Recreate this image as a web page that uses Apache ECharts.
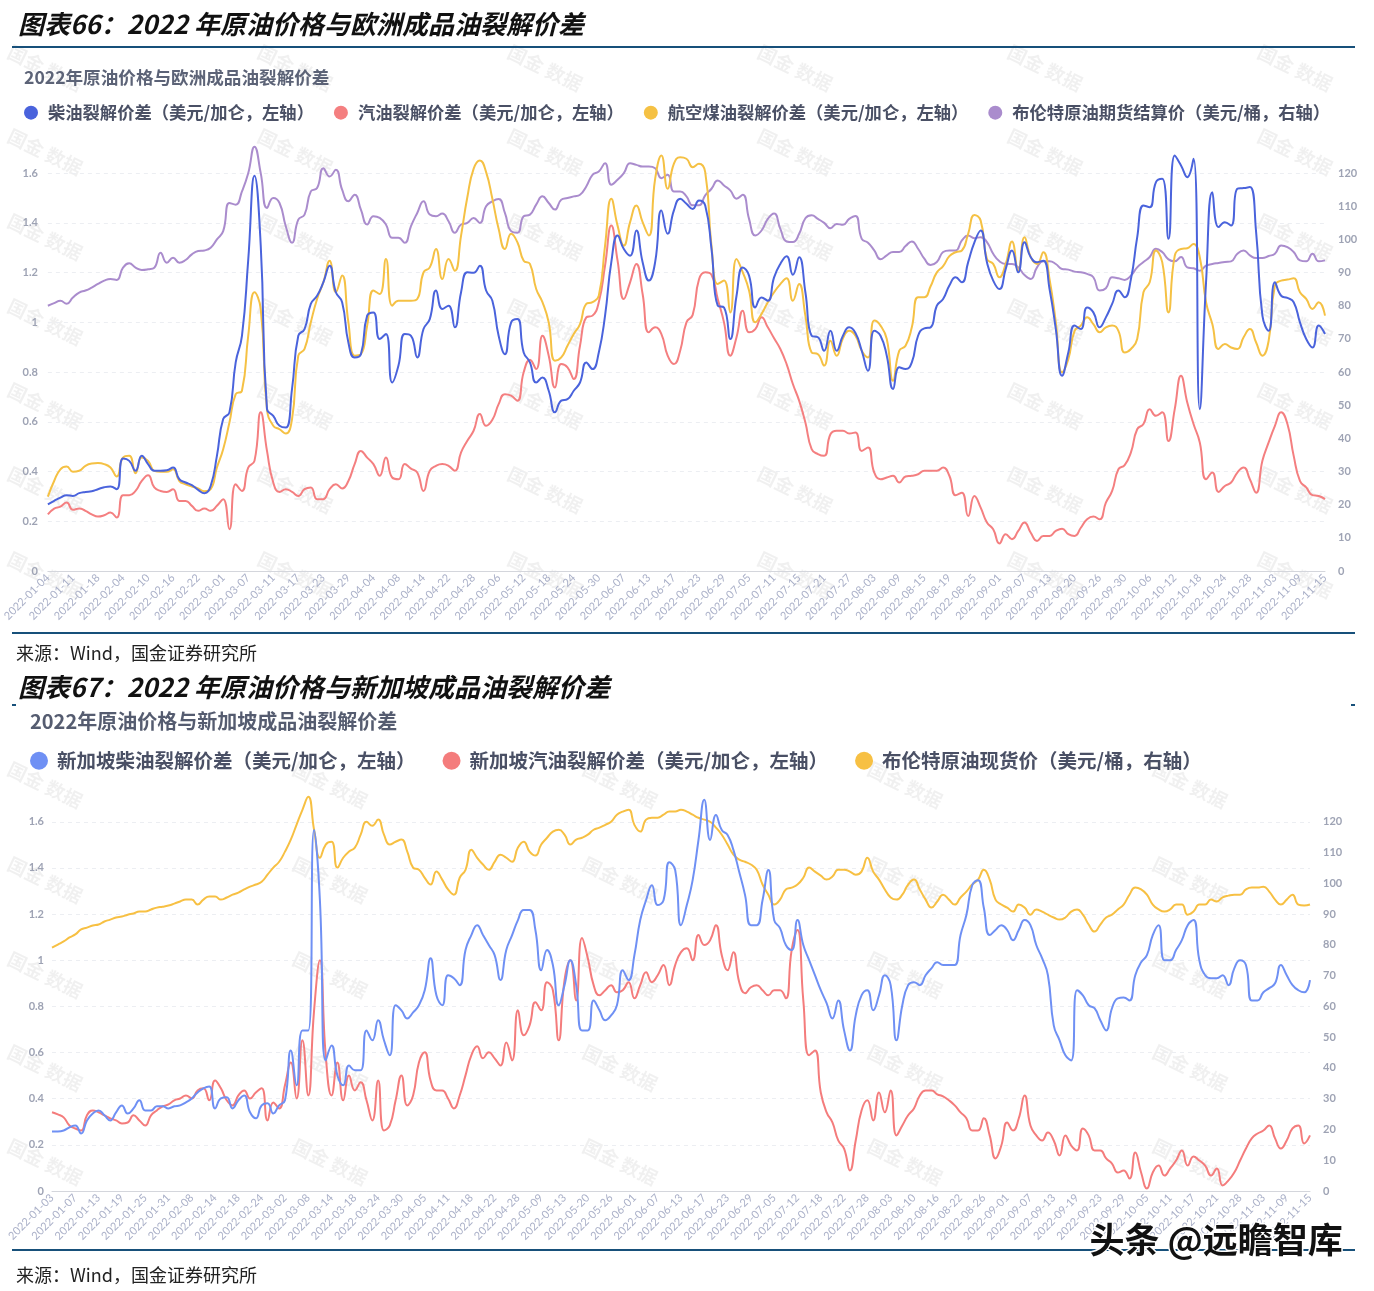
<!DOCTYPE html>
<html><head><meta charset="utf-8">
<script src="https://cdn.jsdelivr.net/npm/echarts/dist/echarts.min.js"></script>
<style>html,body{margin:0;padding:0;background:#fff}#c{width:1374px;height:1291px}</style>
</head><body><div id="c"></div>
<script>
// ---------- Chart 66: Europe ----------
const dates1 = ['01-04','01-05','01-06','01-07','01-11','01-12','01-13','01-14','01-18','01-19','01-20','01-21',
'02-04','02-07','02-08','02-09','02-10','02-11','02-14','02-15','02-16','02-17','02-18','02-21',
'02-22','02-23','02-24','02-25','03-01','03-02','03-03','03-04','03-07','03-08','03-09','03-10',
'03-11','03-14','03-15','03-16','03-17','03-18','03-21','03-22','03-23','03-24','03-25','03-28',
'03-29','03-30','03-31','04-01','04-04','04-05','04-06','04-07','04-08','04-11','04-12','04-13',
'04-14','04-19','04-20','04-21','04-22','04-25','04-26','04-27','04-28','04-29','05-04','05-05',
'05-06','05-09','05-10','05-11','05-12','05-13','05-16','05-17','05-18','05-19','05-20','05-23',
'05-24','05-25','05-26','05-27','05-30','05-31','06-01','06-06','06-07','06-08','06-09','06-10',
'06-13','06-14','06-15','06-16','06-17','06-20','06-21','06-22','06-23','06-24','06-27','06-28',
'06-29','06-30','07-01','07-04','07-05','07-06','07-07','07-08','07-11','07-12','07-13','07-14',
'07-15','07-18','07-19','07-20','07-21','07-22','07-25','07-26','07-27','07-28','07-29','08-01',
'08-03','08-04','08-05','08-08','08-09','08-10','08-11','08-12','08-15','08-16','08-17','08-18',
'08-19','08-22','08-23','08-24','08-25','08-26','08-29','08-31','09-01','09-02','09-05','09-06',
'09-07','09-08','09-09','09-12','09-13','09-14','09-15','09-16','09-20','09-21','09-22','09-23',
'09-26','09-27','09-28','09-29','09-30','10-03','10-04','10-05','10-06','10-07','10-10','10-11',
'10-12','10-13','10-14','10-17','10-18','10-19','10-20','10-21','10-24','10-25','10-26','10-27',
'10-28','10-31','11-01','11-02','11-03','11-04','11-07','11-08','11-09','11-10','11-11','11-14',
'11-15'].map(d => '2022-' + d);

const diesel1 = [
0.268,0.282,0.295,0.305,0.302,0.313,0.318,0.321,0.329,0.337,
0.34,0.329,0.452,0.443,0.403,0.463,0.43,0.403,0.403,0.405,
0.416,0.369,0.356,0.345,0.326,0.313,0.342,0.463,0.611,0.638,
0.839,0.946,1.25,1.59,1.309,0.651,0.624,0.584,0.577,0.732,
0.946,0.973,1.074,1.107,1.161,1.228,1.121,1.081,0.919,0.859,
0.872,1.027,1.04,0.933,0.953,0.758,0.826,0.953,0.946,0.859,
0.973,1.013,1.128,1.054,1.067,0.98,1.121,1.201,1.199,1.228,
1.128,1.087,0.946,0.872,1.0,1.013,0.879,0.839,0.758,0.778,
0.725,0.638,0.685,0.691,0.725,0.758,0.839,0.812,0.879,1.027,
1.242,1.349,1.295,1.268,1.369,1.242,1.168,1.242,1.45,1.356,
1.45,1.497,1.477,1.456,1.49,1.47,1.295,1.067,1.06,0.933,
1.107,1.221,1.188,1.06,1.1,1.087,1.181,1.235,1.266,1.191,
1.262,1.121,0.946,0.94,0.886,0.966,0.886,0.946,0.98,0.957,
0.886,0.805,0.966,0.946,0.866,0.732,0.819,0.812,0.839,0.946,
0.976,0.98,1.067,1.094,1.148,1.181,1.161,1.242,1.322,1.369,
1.242,1.168,1.134,1.215,1.289,1.201,1.322,1.262,1.242,1.248,
1.134,0.973,0.785,0.879,0.987,0.973,1.06,1.04,0.98,1.02,
1.074,1.128,1.101,1.174,1.342,1.47,1.463,1.564,1.577,1.336,
1.671,1.631,1.584,1.658,0.651,1.161,1.523,1.383,1.403,1.389,
1.537,1.54,1.544,1.362,1.027,0.966,1.161,1.107,1.098,1.081,
1.0,0.933,0.899,0.987,0.953];

const gasoline1 = [
0.228,0.251,0.259,0.275,0.246,0.251,0.242,0.228,0.219,0.224,
0.235,0.215,0.305,0.305,0.322,0.362,0.385,0.336,0.322,0.318,
0.329,0.282,0.282,0.262,0.242,0.251,0.242,0.262,0.289,0.168,
0.349,0.322,0.416,0.443,0.638,0.483,0.356,0.318,0.329,0.318,
0.302,0.329,0.336,0.289,0.289,0.329,0.349,0.332,0.362,0.43,
0.483,0.456,0.43,0.383,0.456,0.376,0.369,0.43,0.412,0.396,
0.322,0.403,0.423,0.43,0.423,0.403,0.477,0.524,0.564,0.631,
0.584,0.608,0.671,0.711,0.705,0.685,0.799,0.85,0.812,0.946,
0.866,0.738,0.832,0.819,0.772,0.906,1.02,1.027,1.081,1.228,
1.389,1.248,1.094,1.161,1.235,1.114,0.96,0.98,0.953,0.866,
0.832,0.886,1.0,1.03,1.172,1.201,1.191,1.094,1.0,0.866,
0.94,1.047,0.96,0.973,1.02,0.98,0.936,0.893,0.832,0.752,
0.685,0.597,0.49,0.47,0.463,0.55,0.564,0.564,0.553,0.557,
0.483,0.497,0.396,0.369,0.376,0.383,0.356,0.38,0.383,0.389,
0.403,0.403,0.403,0.416,0.383,0.305,0.315,0.221,0.302,0.255,
0.195,0.168,0.111,0.148,0.128,0.161,0.195,0.154,0.121,0.141,
0.141,0.161,0.17,0.148,0.141,0.174,0.208,0.219,0.208,0.275,
0.322,0.409,0.426,0.477,0.57,0.591,0.651,0.624,0.638,0.523,
0.651,0.785,0.678,0.591,0.517,0.369,0.396,0.318,0.342,0.356,
0.396,0.416,0.369,0.315,0.443,0.517,0.584,0.638,0.591,0.463,
0.362,0.336,0.305,0.302,0.289];

const jet1 = [
0.299,0.362,0.409,0.42,0.399,0.403,0.423,0.432,0.434,0.43,
0.416,0.38,0.456,0.463,0.393,0.456,0.443,0.403,0.399,0.399,
0.409,0.362,0.349,0.34,0.332,0.321,0.329,0.416,0.49,0.597,
0.711,0.725,0.946,1.121,1.054,0.651,0.584,0.57,0.553,0.611,
0.866,0.893,1.0,1.094,1.161,1.248,1.121,1.188,1.0,0.866,
0.872,0.987,1.128,1.114,1.255,1.067,1.087,1.087,1.087,1.094,
1.201,1.221,1.295,1.174,1.255,1.208,1.349,1.503,1.617,1.651,
1.604,1.497,1.376,1.295,1.356,1.322,1.248,1.235,1.134,1.081,
1.0,0.846,0.859,0.906,0.953,0.993,1.074,1.081,1.107,1.309,
1.497,1.389,1.309,1.403,1.47,1.403,1.349,1.577,1.671,1.537,
1.638,1.664,1.658,1.624,1.638,1.604,1.309,1.154,1.168,1.04,
1.255,1.201,1.128,1.0,1.034,1.081,1.121,1.154,1.177,1.087,
1.154,1.027,0.879,0.872,0.826,0.926,0.866,0.936,0.966,0.946,
0.886,0.859,1.007,0.987,0.933,0.765,0.886,0.906,0.98,1.101,
1.101,1.145,1.201,1.226,1.266,1.282,1.289,1.356,1.432,1.409,
1.255,1.235,1.181,1.235,1.325,1.208,1.342,1.262,1.235,1.282,
1.174,1.0,0.799,0.852,0.966,0.987,1.02,0.993,0.96,0.98,
0.987,0.966,0.879,0.893,0.933,1.121,1.161,1.289,1.242,1.04,
1.268,1.295,1.298,1.315,1.262,1.081,0.993,0.893,0.913,0.899,
0.893,0.94,0.973,0.919,0.866,0.926,1.148,1.168,1.172,1.177,
1.121,1.094,1.054,1.081,1.027];

const brentFut1 = [
80.0,80.8,81.5,80.6,82.5,84.0,84.6,85.5,86.6,87.6,
88.1,87.8,91.5,92.8,91.5,90.8,91.0,91.5,96.0,93.0,
94.5,93.0,93.8,95.5,96.5,96.7,97.5,100.0,102.5,111.0,
110.5,114.5,120.0,128.0,120.0,109.5,112.5,111.0,104.0,99.0,
106.0,107.5,114.5,115.5,121.5,119.0,121.0,115.0,111.5,113.5,
109.0,104.5,107.0,106.5,104.5,100.5,100.5,99.0,104.0,108.0,
111.5,107.5,107.0,107.8,105.5,102.0,104.5,105.0,106.5,105.0,
110.0,111.5,112.2,108.0,102.5,102.0,107.0,107.5,110.5,113.0,
111.0,109.0,112.0,112.5,113.0,113.5,116.0,119.5,120.5,123.0,
116.5,118.0,120.0,123.0,122.5,122.0,122.0,121.5,118.5,119.5,
114.5,114.5,113.0,110.3,110.3,113.3,115.3,117.8,116.3,114.8,
112.3,113.5,106.2,101.2,102.7,106.2,107.8,103.2,99.4,99.2,
101.7,106.4,107.3,106.2,105.0,103.4,104.7,104.4,106.2,107.1,
100.2,99.0,96.7,94.0,95.2,96.2,96.2,98.0,99.4,97.2,
94.2,92.3,93.2,96.2,96.7,96.7,99.7,101.2,100.4,100.7,
99.2,95.7,93.4,92.6,92.6,91.6,89.3,88.1,91.6,93.4,
93.4,92.6,91.1,90.9,90.3,90.1,89.6,88.6,84.6,85.3,
88.6,88.3,87.8,89.1,91.6,93.2,94.7,97.2,96.2,94.0,
93.4,94.7,91.6,91.3,90.6,92.1,92.6,92.9,93.2,93.4,
95.7,96.7,95.2,94.4,94.4,95.0,95.7,98.2,97.7,96.2,
93.7,93.4,95.7,93.4,93.7];

// ---------- Chart 67: Singapore ----------
const dates2 = ['01-03','01-04','01-05','01-06','01-07','01-10','01-11','01-12','01-13','01-14','01-17','01-18',
'01-19','01-20','01-21','01-24','01-25','01-26','01-27','01-28','01-31','02-03','02-04','02-07',
'02-08','02-09','02-10','02-11','02-14','02-15','02-16','02-17','02-18','02-21','02-22','02-23',
'02-24','02-25','02-28','03-01','03-02','03-03','03-04','03-07','03-08','03-09','03-10','03-11',
'03-14','03-15','03-16','03-17','03-18','03-21','03-22','03-23','03-24','03-25','03-28','03-29',
'03-30','03-31','04-01','04-04','04-05','04-06','04-07','04-08','04-11','04-12','04-13','04-14',
'04-18','04-19','04-20','04-21','04-22','04-25','04-26','04-27','04-28','04-29','05-04','05-05',
'05-09','05-10','05-11','05-12','05-13','05-16','05-17','05-19','05-20','05-23','05-24','05-25',
'05-26','05-27','05-30','05-31','06-01','06-02','06-03','06-06','06-07','06-08','06-09','06-10',
'06-13','06-14','06-15','06-16','06-17','06-20','06-21','06-22','06-23','06-24','06-27','06-28',
'06-29','06-30','07-01','07-04','07-05','07-06','07-07','07-11','07-12','07-13','07-14','07-15',
'07-18','07-19','07-20','07-21','07-22','07-25','07-26','07-27','07-28','07-29','08-01','08-02',
'08-03','08-04','08-05','08-08','08-10','08-11','08-12','08-15','08-16','08-17','08-18','08-19',
'08-22','08-23','08-24','08-25','08-26','08-29','08-30','08-31','09-01','09-02','09-05','09-06',
'09-07','09-08','09-09','09-12','09-13','09-14','09-15','09-16','09-19','09-20','09-21','09-22',
'09-23','09-26','09-27','09-28','09-29','09-30','10-03','10-04','10-05','10-06','10-07','10-10',
'10-11','10-12','10-13','10-14','10-17','10-18','10-19','10-20','10-21','10-24','10-25','10-27',
'10-28','10-31','11-01','11-02','11-03','11-04','11-07','11-08','11-09','11-10','11-11','11-14',
'11-15'].map(d => '2022-' + d);

const diesel2 = [
0.258,0.258,0.262,0.276,0.284,0.249,0.306,0.336,0.349,0.328,
0.306,0.341,0.371,0.336,0.358,0.393,0.349,0.349,0.367,0.367,
0.358,0.367,0.371,0.384,0.401,0.427,0.445,0.453,0.358,0.401,
0.406,0.358,0.393,0.414,0.341,0.315,0.371,0.38,0.336,0.371,
0.393,0.609,0.458,0.696,0.696,1.564,1.26,0.566,0.631,0.501,
0.458,0.544,0.523,0.523,0.696,0.653,0.74,0.653,0.588,0.805,
0.783,0.748,0.774,0.805,0.87,1.009,0.848,0.805,0.935,0.922,
0.892,1.044,1.109,1.152,1.109,1.066,1.022,0.914,1.044,1.109,
1.174,1.218,1.218,1.131,0.957,1.044,0.979,0.805,0.892,1.0,
0.892,0.696,0.696,0.826,0.783,0.74,0.761,0.805,0.957,0.914,
1.022,1.174,1.26,1.325,1.239,1.26,1.425,1.391,1.152,1.239,
1.347,1.521,1.695,1.521,1.629,1.564,1.543,1.478,1.382,1.282,
1.152,1.152,1.26,1.391,1.174,1.139,1.066,1.044,1.174,1.066,
1.0,0.935,0.87,0.814,0.748,0.826,0.696,0.609,0.761,0.848,
0.87,0.783,0.848,0.935,0.892,0.653,0.805,0.892,0.905,0.892,
0.935,0.965,0.991,0.979,0.979,0.979,1.109,1.196,1.325,1.347,
1.226,1.109,1.131,1.152,1.131,1.087,1.131,1.174,1.152,1.066,
1.009,0.935,0.718,0.653,0.588,0.566,0.87,0.848,0.805,0.792,
0.74,0.696,0.792,0.835,0.839,0.826,0.935,0.991,1.022,1.109,
1.152,1.0,1.0,1.044,1.087,1.152,1.174,1.0,0.935,0.922,
0.922,0.935,0.892,0.965,1.0,0.979,0.826,0.826,0.861,0.879,
0.9,0.979,0.935,0.892,0.87,0.861,0.914];

const gasoline2 = [
0.341,0.332,0.319,0.284,0.271,0.262,0.328,0.349,0.341,0.328,
0.315,0.306,0.293,0.297,0.328,0.306,0.284,0.328,0.349,0.367,
0.375,0.393,0.401,0.414,0.401,0.436,0.445,0.393,0.479,0.445,
0.393,0.371,0.414,0.436,0.401,0.427,0.445,0.306,0.384,0.358,
0.458,0.557,0.401,0.653,0.414,0.783,1.0,0.588,0.414,0.557,
0.393,0.501,0.436,0.471,0.393,0.306,0.479,0.262,0.284,0.393,
0.501,0.371,0.414,0.557,0.601,0.479,0.436,0.436,0.401,0.358,
0.414,0.501,0.588,0.627,0.575,0.601,0.575,0.544,0.644,0.566,
0.783,0.675,0.718,0.818,0.783,0.905,0.87,0.653,0.914,1.0,
0.826,1.096,1.009,0.892,0.848,0.87,0.892,0.861,0.87,0.905,
0.835,0.892,0.948,0.905,0.935,0.979,0.892,0.979,1.035,1.052,
1.0,1.109,1.066,1.087,1.152,1.022,0.957,1.035,0.905,0.857,
0.883,0.892,0.87,0.848,0.87,0.87,0.835,1.044,1.131,0.826,
0.588,0.609,0.427,0.341,0.297,0.219,0.184,0.089,0.219,0.349,
0.393,0.306,0.427,0.341,0.436,0.241,0.284,0.328,0.358,0.414,
0.436,0.436,0.419,0.41,0.393,0.371,0.341,0.315,0.262,0.262,
0.315,0.241,0.141,0.197,0.297,0.262,0.315,0.414,0.284,0.241,
0.219,0.253,0.219,0.154,0.241,0.197,0.176,0.271,0.241,0.176,
0.176,0.141,0.119,0.08,0.089,0.054,0.167,0.08,0.011,0.08,
0.11,0.067,0.098,0.132,0.176,0.11,0.15,0.132,0.11,0.067,
0.098,0.024,0.046,0.08,0.132,0.184,0.228,0.249,0.262,0.284,
0.228,0.184,0.219,0.271,0.284,0.206,0.241];

const brentSpot2 = [
79.1,80.1,81.1,82.4, 83.4,85.0,85.6,86.3, 86.6,87.6,88.2,88.9, 89.2,89.8,90.2,90.8,
90.8,91.5,92.1,92.4, 92.8,93.4,94.1,94.7, 94.7,93.1,94.7,95.7, 95.7,94.7,95.4,96.3,
97.0,98.0,98.9,99.6, 100.5,102.8,105.1,107.0, 110.3,114.2,119.1,123.9, 128.1,117.4,108.3,112.6,
113.5,105.1,108.3,110.3, 111.6,115.8,120.0,118.7, 120.7,115.8,112.6,113.5, 114.2,110.3,105.1,104.4,
101.8,99.6,103.8,101.2, 98.0,96.3,101.8,104.4, 110.9,108.3,106.1,104.4, 107.0,109.3,108.3,107.0,
111.6,113.5,110.3,109.0, 112.6,114.8,116.8,117.4, 115.8,112.6,114.2,114.8, 115.8,117.4,118.1,119.0,
120.0,122.3,123.3,123.9, 119.0,116.8,120.7,121.3, 121.3,122.3,123.3,123.3, 123.9,123.3,122.3,121.3,
120.7,120.0,118.1,115.8, 112.6,109.3,107.7,107.0, 106.1,104.4,99.6,96.3, 93.1,94.7,98.0,98.6,
99.6,101.8,105.1,103.8, 102.5,101.2,102.2,104.4, 104.4,103.8,102.8,103.8, 108.3,103.8,101.2,98.0,
95.4,94.7,96.3,99.6, 101.2,98.0,94.7,92.1, 94.1,96.3,94.7,93.1, 95.4,97.3,99.6,101.2,
104.4,101.2,94.7,93.1, 92.1,90.8,93.1,92.1, 89.8,91.5,90.8,89.8, 88.9,88.2,88.9,90.8,
91.5,89.8,86.6,84.3, 86.6,88.9,89.8,91.5, 93.1,96.3,98.6,98.0, 96.3,93.1,91.5,90.8,
91.5,93.1,93.1,89.8, 90.8,93.1,93.1,94.7, 94.1,95.4,96.0,96.3, 96.3,98.0,98.6,98.6,
98.9,97.3,94.7,93.1, 94.7,96.3,93.1,92.8, 93.1];

const leftTicks = {min: 0, max: 130 / 75, interval: 0.2};
const rightTicks = {min: 0, max: 130, interval: 10};

const names1 = ['柴油裂解价差（美元/加仑，左轴）','汽油裂解价差（美元/加仑，左轴）','航空煤油裂解价差（美元/加仑，左轴）','布伦特原油期货结算价（美元/桶，右轴）'];
const names2 = ['新加坡柴油裂解价差（美元/加仑，左轴）','新加坡汽油裂解价差（美元/加仑，左轴）','布伦特原油现货价（美元/桶，右轴）'];

const CJK = '"Noto Sans CJK SC", sans-serif';
const NUM = 'Lato, "Noto Sans", sans-serif';

function xAx(gi, data) {
  return {type:'category', gridIndex:gi, data:data, boundaryGap:false,
    axisLine:{lineStyle:{color:'#d4d6dc', width:1}}, axisTick:{show:false},
    axisLabel:{interval:3, rotate:45, fontSize:11, color:'#aab0c8', fontFamily:NUM, margin:5}};
}
function yAx(gi, side, t, margin, split) {
  return {type:'value', gridIndex:gi, position:side, min:t.min, max:t.max, interval:t.interval,
    axisLine:{show:false}, axisTick:{show:false},
    axisLabel:{showMaxLabel:false, fontSize:11, color:'#9ea3b4', fontWeight:'bold', fontFamily:NUM, margin:margin},
    splitLine:{show:split, showMaxLine:false, lineStyle:{color:'#eceef2', type:[4,4]}}};
}
function ln(name, xi, yi, data, color) {
  return {name:name, type:'line', xAxisIndex:xi, yAxisIndex:yi, data:data, smooth:true, symbol:'none',
    lineStyle:{width:2, color:color}, itemStyle:{color:color}};
}

const graphics = [];
function txt(x, y, s, font, fill, extra) {
  graphics.push({type:'text', left:x, top:y, z:10, style:Object.assign({text:s, font:font, fill:fill}, extra || {})});
}
function rule(y) {
  graphics.push({type:'line', z:10, shape:{x1:12, y1:y, x2:1355, y2:y}, style:{stroke:'#17507a', lineWidth:2}});
}
// watermarks
[[68,152,237,322,406,490,575],[785,880,975,1068,1162]].forEach((rows, ci) => {
  const cols = ci === 0 ? [45,295,545,795,1045,1295] : [45,330,620,905,1190];
  rows.forEach(y => cols.forEach(x => {
    graphics.push({type:'text', x:x, y:y, rotation:-0.45, z:-1, silent:true,
      style:{text:'国金 数据', font:'bold 19px ' + CJK, fill:'rgba(0,0,0,0.06)', align:'center', verticalAlign:'middle'}});
  }));
});
txt(18, 11, '图表66：2022 年原油价格与欧洲成品油裂解价差', 'italic bold 26px ' + CJK, '#111');
rule(47);
txt(24, 69, '2022年原油价格与欧洲成品油裂解价差', 'bold 17.6px ' + CJK, '#5c6377');
rule(633);
txt(16, 644, '来源：Wind，国金证券研究所', '18px ' + CJK, '#222');
txt(18, 674, '图表67：2022 年原油价格与新加坡成品油裂解价差', 'italic bold 26px ' + CJK, '#111');
graphics.push({type:'line', z:10, shape:{x1:12, y1:705, x2:16, y2:705}, style:{stroke:'#17507a', lineWidth:2}});
graphics.push({type:'line', z:10, shape:{x1:1351, y1:705, x2:1355, y2:705}, style:{stroke:'#17507a', lineWidth:2}});
txt(30, 711, '2022年原油价格与新加坡成品油裂解价差', 'bold 20px ' + CJK, '#555c70');
rule(1250);
txt(16, 1266, '来源：Wind，国金证券研究所', '18px ' + CJK, '#222');
txt(1088, 1221, '头条 @远瞻智库', 'bold 35px ' + CJK, '#111', {stroke:'#fff', lineWidth:3});

const chart = echarts.init(document.getElementById('c'));
chart.setOption({
  animation:false,
  backgroundColor:'#fff',
  legend:[
    {left:19, top:99, icon:'circle', itemWidth:24, itemHeight:14, itemGap:20, data:names1,
      textStyle:{fontSize:17.3, color:'#4a5065', fontWeight:'bold', fontFamily:CJK}},
    {left:25, top:746, icon:'circle', itemWidth:26, itemHeight:18, itemGap:27, data:names2,
      textStyle:{fontSize:19.5, color:'#4a5065', fontWeight:'bold', fontFamily:CJK}}
  ],
  grid:[
    {left:47, right:49, top:140, bottom:720},
    {left:52, right:64, top:791, bottom:100}
  ],
  xAxis:[xAx(0, dates1), xAx(1, dates2)],
  yAxis:[yAx(0,'left',leftTicks,10,true), yAx(0,'right',rightTicks,13,false),
         yAx(1,'left',leftTicks,8,true), yAx(1,'right',rightTicks,13,false)],
  series:[
    ln(names1[3], 0, 1, brentFut1, '#aa8ccd'),
    ln(names1[1], 0, 0, gasoline1, '#f47f80'),
    ln(names1[2], 0, 0, jet1, '#f5c144'),
    ln(names1[0], 0, 0, diesel1, '#4a63dc'),
    ln(names2[2], 1, 3, brentSpot2, '#f7c043'),
    ln(names2[1], 1, 2, gasoline2, '#f47c7c'),
    ln(names2[0], 1, 2, diesel2, '#6f90f4')
  ],
  graphic:graphics
});
</script></body></html>
